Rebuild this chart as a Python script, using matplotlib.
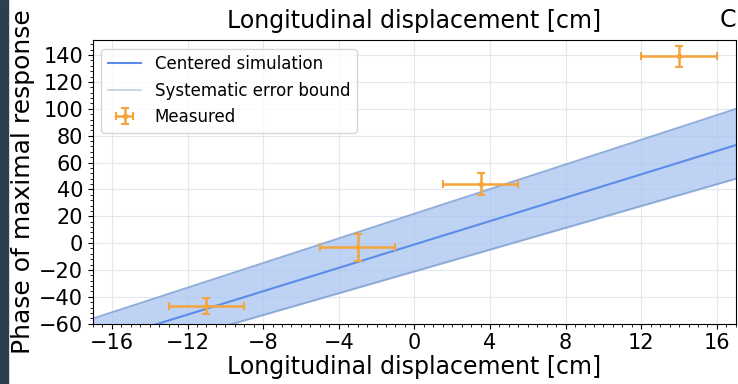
import matplotlib.pyplot as plt
from matplotlib.patches import Rectangle
from matplotlib.ticker import MultipleLocator

# simulation curves
sim_x = [-17, 0, 17]
sim_center = [-75, -1, 73]
sim_upper = [-56, 22, 100]
sim_lower = [-90, -21, 48]

# measured points
meas_x = [-11, -3, 3.5, 14]
meas_y = [-47, -3, 44, 139]
meas_xerr = [2, 2, 2, 2]
meas_yerr = [6, 10, 8, 7.5]

fig = plt.figure(figsize=(7.38, 3.84), dpi=100)
ax = fig.add_axes([0.126, 0.157, 0.871, 0.738])

ax.fill_between(sim_x, sim_lower, sim_upper, color="#a9c4f0", alpha=0.75, zorder=1)
ax.plot(sim_x, sim_center, color="#5b8de8", lw=1.5, label="Centered simulation", zorder=3)
ax.plot(sim_x, sim_upper, color="#7f9fcf", lw=1.2, alpha=0.8, zorder=2,
        label="Systematic error bound")
ax.plot(sim_x, sim_lower, color="#7f9fcf", lw=1.2, alpha=0.8, zorder=2)
ax.errorbar(meas_x, meas_y, xerr=meas_xerr, yerr=meas_yerr, fmt="o", ms=3,
            color="#f5a53c", ecolor="#f5a53c", elinewidth=1.8, capsize=3,
            capthick=1.5, label="Measured", zorder=4)

ax.set_xlim(-17, 17)
ax.set_ylim(-60, 151)
ax.xaxis.set_major_locator(MultipleLocator(4))
ax.xaxis.set_minor_locator(MultipleLocator(0.5))
ax.yaxis.set_major_locator(MultipleLocator(20))
ax.yaxis.set_minor_locator(MultipleLocator(4))
ax.tick_params(labelsize=15)
ax.grid(True, which="major", color="#e3e8f0", lw=0.8)
ax.set_axisbelow(True)

ax.set_xlabel("Longitudinal displacement [cm]", fontsize=17, labelpad=1)
ax.set_ylabel("Phase of maximal response", fontsize=18, labelpad=3)
ax.set_title("Longitudinal displacement [cm]", fontsize=17, pad=9)
ax.text(1.0, 1.03, "C", transform=ax.transAxes, ha="right", va="bottom", fontsize=17)

leg = ax.legend(loc="upper left", fontsize=12, framealpha=0.8, borderaxespad=0.5)
leg.get_lines()[1].set_color("#b0c4dc")

fig.patches.append(Rectangle((0, 0), 8 / 738, 1, transform=fig.transFigure,
                             color="#2c3e50", zorder=10))

fig.savefig("out.png", dpi=100)
